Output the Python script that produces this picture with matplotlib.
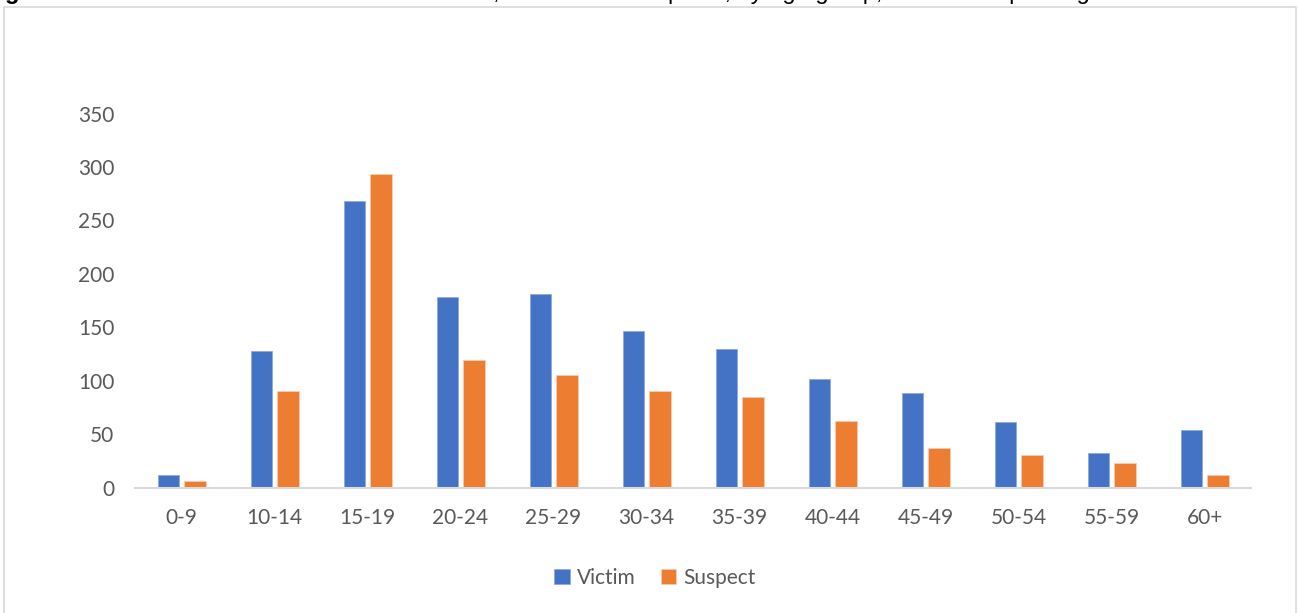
import numpy as np
import matplotlib
matplotlib.use("Agg")
import matplotlib.pyplot as plt
from matplotlib.patches import Rectangle

plt.rcParams['font.family'] = ['Lato', 'DejaVu Sans']

# Data
age_groups = ["0-9", "10-14", "15-19", "20-24", "25-29", "30-34",
              "35-39", "40-44", "45-49", "50-54", "55-59", "60+"]
victim = [12, 128, 268, 178, 181, 146, 130, 102, 88, 61, 32, 54]
suspect = [6, 90, 293, 119, 105, 90, 85, 62, 37, 30, 23, 12]

blue = "#4472C4"
orange = "#ED7D31"
grey_text = "#595959"

fig = plt.figure(figsize=(12.98, 6.13), dpi=100)

# outer chart border
fig.patches.append(Rectangle((4 / 1298, -0.02), 1292 / 1298, 1.02 - 7 / 613,
                             transform=fig.transFigure, fill=False,
                             edgecolor="#D9D9D9", linewidth=1.2))

# title sits mostly above the top edge, as in the source picture
title_y = 1 + 1 / 613
t1 = fig.text(-0.012, title_y, "Figure 3:", fontsize=17, fontweight="bold",
              va="baseline", ha="left", color="black", family="Liberation Sans")
fig.canvas.draw()
bb = t1.get_window_extent(renderer=fig.canvas.get_renderer())
fig.text(bb.x1 / fig.bbox.width + 0.004, title_y,
         "Knife crime incidents recorded in 2019, victims and suspects, by age group, in the local policing area",
         fontsize=17, va="baseline", ha="left", color="black", family="Liberation Sans")

ax = fig.add_axes([135 / 1298, 1 - 487.5 / 613, (1251 - 135) / 1298, (487.5 - 113.5) / 613])

x = np.arange(len(age_groups))
w = 0.23
ax.bar(x - 0.14, victim, w, color=blue, edgecolor="#8FAADC", linewidth=0.6, label="Victim", zorder=2)
ax.bar(x + 0.145, suspect, w, color=orange, edgecolor="#F8CBAD", linewidth=0.6, label="Suspect", zorder=2)

ax.set_xlim(-0.5, len(age_groups) - 0.5)
ax.set_ylim(0, 350)
ax.set_yticks(range(0, 351, 50))
ax.set_xticks(x)
ax.set_xticklabels(age_groups)

for s in ["top", "right", "left"]:
    ax.spines[s].set_visible(False)
ax.spines["bottom"].set_color("#D9D9D9")
ax.spines["bottom"].set_linewidth(1.5)

ax.tick_params(axis="both", length=0, labelsize=15, labelcolor=grey_text)
ax.tick_params(axis="y", pad=15)
ax.tick_params(axis="x", pad=15)

handles, labels = ax.get_legend_handles_labels()
fig.legend(handles, labels, loc="center", bbox_to_anchor=(655 / 1298, 1 - 578 / 613),
           ncol=2, frameon=False, fontsize=15, labelcolor=grey_text,
           handlelength=0.75, handleheight=0.75, handletextpad=0.35, columnspacing=1.2)

fig.savefig("out.png", dpi=100)
